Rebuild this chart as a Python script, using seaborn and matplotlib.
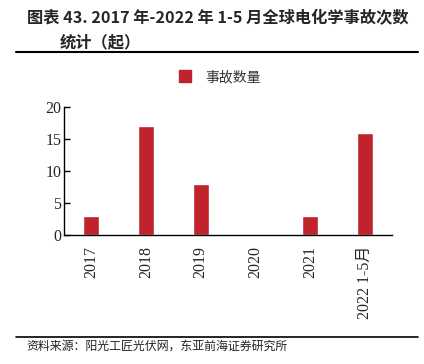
import pandas as pd
import matplotlib.pyplot as plt
import seaborn as sns
from matplotlib.lines import Line2D

# ------------------------------------------
# Data
# ------------------------------------------
years = ["2017", "2018", "2019", "2020", "2021", "2022 1-5月"]
accidents = [3, 17, 8, 0, 3, 16]
series_name = "事故数量"
yticks = [0, 5, 10, 15, 20]

df = pd.DataFrame({"year": years, "count": accidents, "series": series_name})

# ------------------------------------------
# Style
# ------------------------------------------
sns.set_style("white")
serif = ["Liberation Serif", "Noto Sans CJK SC"]
cjk = ["Noto Sans CJK SC", "DejaVu Sans"]
plt.rcParams["font.family"] = serif
bar_color = "#C0232C"

fig = plt.figure(figsize=(4.24, 3.64), dpi=100)
ax = fig.add_axes([64 / 424, 1 - 235 / 364, 328 / 424, 128 / 364])

sns.barplot(data=df, x="year", y="count", hue="series", palette=[bar_color],
            width=0.29, saturation=1, ax=ax, legend=False)

ax.set_ylim(0, 20)
ax.set_yticks(yticks)
ax.set_xlim(-0.5, len(years) - 0.5)
ax.set_xlabel("")
ax.set_ylabel("")
for s in ["top", "right"]:
    ax.spines[s].set_visible(False)
for s in ["left", "bottom"]:
    ax.spines[s].set_color("black")
    ax.spines[s].set_linewidth(1.0)
ax.tick_params(axis="y", length=4, width=1, color="black", labelsize=11.5, pad=2,
               direction="in", left=True)
ax.tick_params(axis="x", length=0, labelsize=11.5, pad=8)
plt.setp(ax.get_xticklabels(), rotation=90, family=serif)
plt.setp(ax.get_yticklabels(), family=serif)

# legend
handle = Line2D([], [], marker="s", linestyle="none", markersize=8,
                markerfacecolor=bar_color, markeredgecolor=bar_color)
leg = fig.legend([handle], [series_name], loc="center", bbox_to_anchor=(216 / 424, 1 - 77 / 364),
                 frameon=False, handletextpad=0.4, prop={"family": cjk, "size": 10})
for t in leg.get_texts():
    t.set_color("#333333")

# title + source
fig.text(27 / 424, 1 - 18 / 364, "图表 43. 2017 年-2022 年 1-5 月全球电化学事故次数",
         fontsize=11.7, fontweight="bold", family=cjk, va="center", ha="left")
fig.text(60 / 424, 1 - 42 / 364, "统计（起）",
         fontsize=11.7, fontweight="bold", family=cjk, va="center", ha="left")
fig.add_artist(Line2D([16 / 424, 418 / 424], [1 - 52 / 364, 1 - 52 / 364],
                      color="black", linewidth=1.5))
fig.add_artist(Line2D([16 / 424, 418 / 424], [1 - 337 / 364, 1 - 337 / 364],
                      color="black", linewidth=1.2))
fig.text(26 / 424, 1 - 346 / 364, "资料来源：阳光工匠光伏网，东亚前海证券研究所",
         fontsize=8.6, family=cjk, va="center", ha="left", color="#222222")

plt.savefig("out.png", dpi=100)
